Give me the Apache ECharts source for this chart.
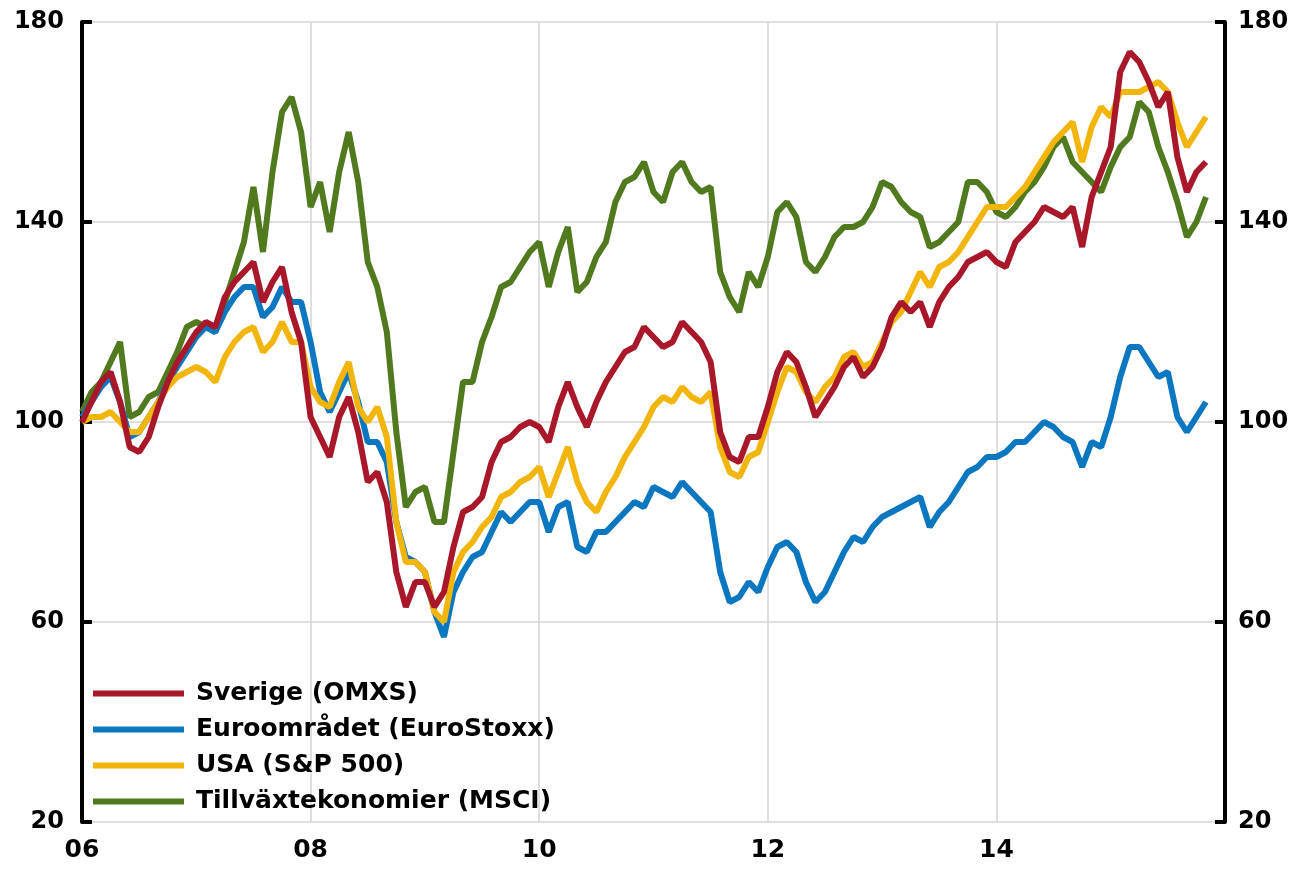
<!DOCTYPE html>
<html>
<head>
<meta charset="utf-8">
<script src="https://cdn.jsdelivr.net/npm/echarts@6/dist/echarts.min.js"></script>
<style>
  html, body { margin: 0; padding: 0; background: #fff; }
  #chart { width: 1295px; height: 876px; }
</style>
</head>
<body>
<div id="chart"></div>
<script>
// monthly readings, Jan 2006 .. Nov 2015 (index 2006 = 100)
const startYear = 2006;
const xTicks = ["06", "08", "10", "12", "14"];

const sverige = [
  100, 104, 108, 110, 104, 95, 94, 97, 103, 108, 112, 115, 118, 120, 119, 125, 128, 130, 132, 124, 128, 131, 122, 116,
  101, 97, 93, 101, 105, 98, 88, 90, 84, 70, 63, 68, 68, 63, 66, 75, 82, 83, 85, 92, 96, 97, 99, 100,
  99, 96, 103, 108, 103, 99, 104, 108, 111, 114, 115, 119, 117, 115, 116, 120, 118, 116, 112, 98, 93, 92, 97, 97,
  103, 110, 114, 112, 107, 101, 104, 107, 111, 113, 109, 111, 115, 121, 124, 122, 124, 119, 124, 127, 129, 132, 133, 134,
  132, 131, 136, 138, 140, 143, 142, 141, 143, 135, 145, 150, 155, 170, 174, 172, 168, 163, 166, 153, 146, 150, 152
];
const euro = [
  101, 104, 107, 109, 104, 97, 98, 101, 104, 108, 111, 114, 117, 119, 118, 122, 125, 127, 127, 121, 123, 127, 124, 124,
  116, 106, 102, 106, 110, 104, 96, 96, 92, 80, 73, 72, 70, 62, 57, 66, 70, 73, 74, 78, 82, 80, 82, 84,
  84, 78, 83, 84, 75, 74, 78, 78, 80, 82, 84, 83, 87, 86, 85, 88, 86, 84, 82, 70, 64, 65, 68, 66,
  71, 75, 76, 74, 68, 64, 66, 70, 74, 77, 76, 79, 81, 82, 83, 84, 85, 79, 82, 84, 87, 90, 91, 93,
  93, 94, 96, 96, 98, 100, 99, 97, 96, 91, 96, 95, 101, 109, 115, 115, 112, 109, 110, 101, 98, 101, 104
];
const usa = [
  100, 101, 101, 102, 100, 98, 98, 101, 104, 107, 109, 110, 111, 110, 108, 113, 116, 118, 119, 114, 116, 120, 116, 116,
  107, 104, 103, 108, 112, 103, 100, 103, 97, 80, 72, 72, 70, 62, 60, 70, 74, 76, 79, 81, 85, 86, 88, 89,
  91, 85, 90, 95, 88, 84, 82, 86, 89, 93, 96, 99, 103, 105, 104, 107, 105, 104, 106, 95, 90, 89, 93, 94,
  100, 106, 111, 110, 106, 104, 107, 109, 113, 114, 111, 112, 116, 120, 122, 126, 130, 127, 131, 132, 134, 137, 140, 143,
  143, 143, 145, 147, 150, 153, 156, 158, 160, 152, 159, 163, 161, 166, 166, 166, 167, 168, 166, 160, 155, 158, 161
];
const msci = [
  102, 106, 108, 112, 116, 101, 102, 105, 106, 110, 114, 119, 120, 119, 118, 124, 130, 136, 147, 134, 150, 162, 165, 158,
  143, 148, 138, 150, 158, 148, 132, 127, 118, 98, 83, 86, 87, 80, 80, 94, 108, 108, 116, 121, 127, 128, 131, 134,
  136, 127, 134, 139, 126, 128, 133, 136, 144, 148, 149, 152, 146, 144, 150, 152, 148, 146, 147, 130, 125, 122, 130, 127,
  133, 142, 144, 141, 132, 130, 133, 137, 139, 139, 140, 143, 148, 147, 144, 142, 141, 135, 136, 138, 140, 148, 148, 146,
  142, 141, 143, 146, 148, 151, 155, 157, 152, 150, 148, 146, 151, 155, 157, 164, 162, 155, 150, 144, 137, 140, 145
];

const dates = sverige.map((_, i) => startYear + i / 12);
const pairs = (arr) => arr.map((v, i) => [dates[i], v]);

const font = "DejaVu Sans";
const chart = echarts.init(document.getElementById("chart"));

function lineSeries(name, data, color, z) {
  return {
    name: name,
    type: "line",
    data: pairs(data),
    showSymbol: false,
    z: z,
    lineStyle: { color: color, width: 6, join: "bevel" },
    itemStyle: { color: color },
  };
}

const yAxisBase = {
  type: "value",
  min: 20,
  max: 180,
  interval: 40,
  axisLine: { show: true, lineStyle: { color: "#000", width: 4 } },
  axisTick: { show: true, inside: true, length: 10, lineStyle: { color: "#000", width: 4 } },
  axisLabel: { color: "#000", fontFamily: font, fontWeight: "bold", fontSize: 24 },
};

const option = {
  backgroundColor: "#fff",
  animation: false,
  grid: { left: 82, right: 70, top: 22, bottom: 54 },
  legend: {
    orient: "vertical",
    left: 88,
    top: 676,
    itemWidth: 91,
    itemHeight: 6,
    itemGap: 11,
    icon: "rect",
    textStyle: { color: "#000", fontFamily: font, fontWeight: "bold", fontSize: 25, padding: [0, 0, 0, 7] },
    data: ["Sverige (OMXS)", "Euroområdet (EuroStoxx)", "USA (S&P 500)", "Tillväxtekonomier (MSCI)"],
  },
  xAxis: {
    type: "value",
    min: 2006,
    max: 2016,
    interval: 2,
    axisLine: { show: false },
    axisTick: { show: false },
    splitLine: { show: true, lineStyle: { color: "#d4d4d4", width: 1.5 } },
    axisLabel: {
      color: "#000",
      fontFamily: font,
      fontWeight: "bold",
      fontSize: 25,
      margin: 16,
      formatter: (v) => xTicks[(v - startYear) / 2] || "",
    },
  },
  yAxis: [
    Object.assign({}, yAxisBase, {
      position: "left",
      splitLine: { show: true, lineStyle: { color: "#d4d4d4", width: 1.5 } },
      axisLabel: Object.assign({}, yAxisBase.axisLabel, { margin: 18 }),
    }),
    Object.assign({}, yAxisBase, {
      position: "right",
      splitLine: { show: false },
      axisLabel: Object.assign({}, yAxisBase.axisLabel, { margin: 13 }),
    }),
  ],
  series: [
    lineSeries("Tillväxtekonomier (MSCI)", msci, "#517a1e", 2),
    lineSeries("Euroområdet (EuroStoxx)", euro, "#0a77c0", 3),
    lineSeries("USA (S&P 500)", usa, "#f2b50c", 4),
    lineSeries("Sverige (OMXS)", sverige, "#a8182a", 5),
  ],
};

chart.setOption(option);
</script>
</body>
</html>
